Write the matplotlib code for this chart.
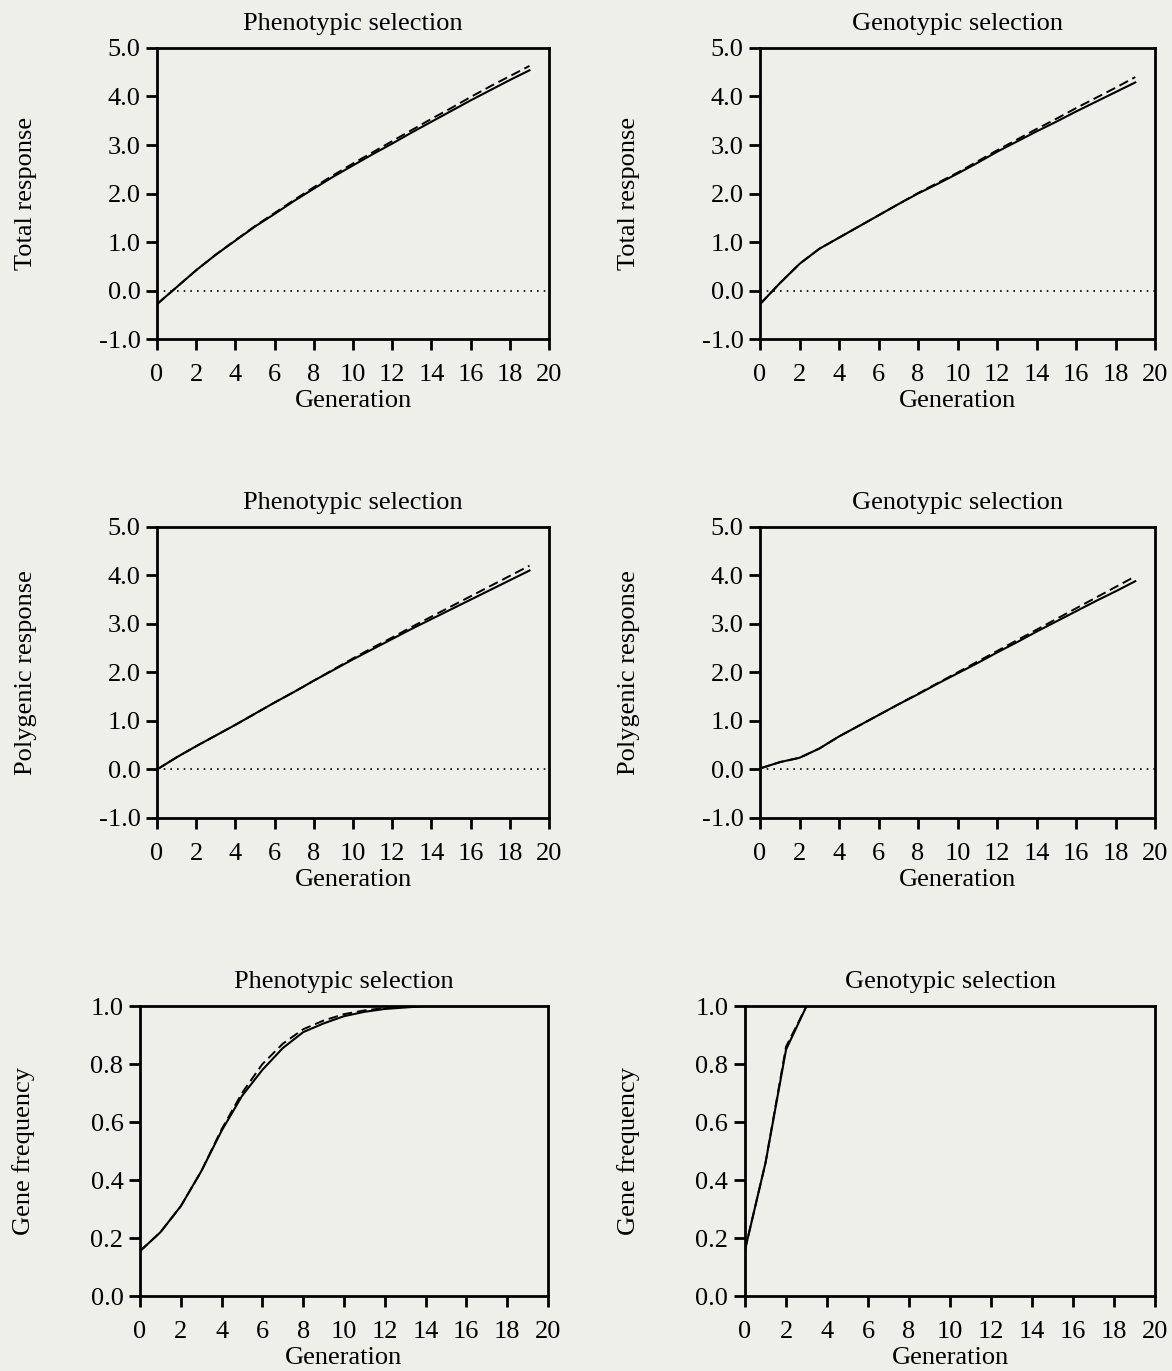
import matplotlib
matplotlib.use('Agg')
import matplotlib.pyplot as plt

plt.rcParams['font.family'] = ['Liberation Serif', 'DejaVu Serif']

gens = list(range(20))

# total response
total_pheno_solid = [-0.28, 0.07, 0.42, 0.74, 1.03, 1.32, 1.58, 1.85, 2.10, 2.35,
                     2.58, 2.81, 3.03, 3.26, 3.48, 3.70, 3.92, 4.13, 4.34, 4.54]
total_pheno_dash = [-0.28, 0.07, 0.42, 0.74, 1.04, 1.33, 1.60, 1.87, 2.13, 2.38,
                    2.62, 2.85, 3.08, 3.31, 3.54, 3.76, 3.99, 4.21, 4.42, 4.63]
total_geno_solid = [-0.28, 0.15, 0.55, 0.86, 1.09, 1.32, 1.55, 1.78, 2.00, 2.20,
                    2.41, 2.63, 2.86, 3.07, 3.28, 3.48, 3.69, 3.89, 4.09, 4.29]
total_geno_dash = [-0.28, 0.15, 0.55, 0.86, 1.09, 1.32, 1.55, 1.78, 2.01, 2.22,
                   2.43, 2.66, 2.89, 3.11, 3.33, 3.54, 3.76, 3.97, 4.18, 4.40]

# polygenic response
poly_pheno_solid = [0.0, 0.25, 0.48, 0.70, 0.92, 1.15, 1.38, 1.60, 1.83, 2.05,
                    2.27, 2.48, 2.69, 2.90, 3.10, 3.30, 3.50, 3.70, 3.90, 4.10]
poly_pheno_dash = [0.0, 0.25, 0.48, 0.70, 0.92, 1.15, 1.38, 1.60, 1.83, 2.06,
                   2.29, 2.51, 2.72, 2.94, 3.15, 3.36, 3.57, 3.78, 3.99, 4.20]
poly_geno_solid = [0.02, 0.15, 0.24, 0.43, 0.68, 0.90, 1.12, 1.34, 1.55, 1.77,
                   1.98, 2.19, 2.41, 2.62, 2.84, 3.05, 3.26, 3.47, 3.67, 3.88]
poly_geno_dash = [0.02, 0.15, 0.24, 0.43, 0.68, 0.90, 1.12, 1.34, 1.56, 1.78,
                  2.00, 2.22, 2.44, 2.66, 2.88, 3.10, 3.32, 3.54, 3.76, 3.98]

# gene frequency
freq_pheno_solid = [0.155, 0.22, 0.31, 0.43, 0.57, 0.69, 0.78, 0.855, 0.91, 0.94,
                    0.965, 0.98, 0.99, 0.995, 1.0, 1.0, 1.0, 1.0, 1.0, 1.0]
freq_pheno_dash = [0.155, 0.22, 0.31, 0.43, 0.575, 0.70, 0.80, 0.87, 0.92, 0.95,
                   0.972, 0.985, 0.993, 0.998, 1.0, 1.0, 1.0, 1.0, 1.0, 1.0]
freq_geno_solid = [0.16, 0.46, 0.85, 1.0, 1.0, 1.0, 1.0, 1.0, 1.0, 1.0,
                   1.0, 1.0, 1.0, 1.0, 1.0, 1.0, 1.0, 1.0, 1.0, 1.0]
freq_geno_dash = [0.16, 0.46, 0.86, 1.0, 1.0, 1.0, 1.0, 1.0, 1.0, 1.0,
                  1.0, 1.0, 1.0, 1.0, 1.0, 1.0, 1.0, 1.0, 1.0, 1.0]

bg = '#efefea'
fs = 19

fig = plt.figure(figsize=(11.72, 13.71), dpi=100)
fig.patch.set_facecolor(bg)

panels = [
    ([0.134, 0.7527, 0.3345, 0.2123], 'Phenotypic selection', 'Total response',
     total_pheno_solid, total_pheno_dash, 'resp'),
    ([0.6485, 0.7527, 0.337, 0.2123], 'Genotypic selection', 'Total response',
     total_geno_solid, total_geno_dash, 'resp'),
    ([0.134, 0.4034, 0.3345, 0.2123], 'Phenotypic selection', 'Polygenic response',
     poly_pheno_solid, poly_pheno_dash, 'resp'),
    ([0.6485, 0.4034, 0.337, 0.2123], 'Genotypic selection', 'Polygenic response',
     poly_geno_solid, poly_geno_dash, 'resp'),
    ([0.1195, 0.0547, 0.348, 0.2115], 'Phenotypic selection', 'Gene frequency',
     freq_pheno_solid, freq_pheno_dash, 'freq'),
    ([0.6357, 0.0547, 0.35, 0.2115], 'Genotypic selection', 'Gene frequency',
     freq_geno_solid, freq_geno_dash, 'freq'),
]

for rect, title, ylab, solid, dash, kind in panels:
    ax = fig.add_axes(rect)
    ax.set_facecolor(bg)
    ax.plot(gens, dash, color='black', lw=1.4, ls=(0, (5, 2.5)))
    ax.plot(gens, solid, color='black', lw=1.5)
    ax.set_xlim(0, 20)
    ax.set_xticks(range(0, 21, 2))
    if kind == 'resp':
        ax.axhline(0, color='black', lw=1.2, ls=(0, (1, 3)))
        ax.set_ylim(-1, 5)
        ax.set_yticks([-1, 0, 1, 2, 3, 4, 5])
        ax.set_yticklabels(['-1.0', '0.0', '1.0', '2.0', '3.0', '4.0', '5.0'])
        lpad = 44
    else:
        ax.set_ylim(0, 1)
        ax.set_yticks([0, 0.2, 0.4, 0.6, 0.8, 1.0])
        ax.set_yticklabels(['0.0', '0.2', '0.4', '0.6', '0.8', '1.0'])
        lpad = 40
    for s in ax.spines.values():
        s.set_linewidth(2)
    ax.tick_params(direction='out', length=8, width=2, labelsize=fs, pad=4)
    ax.tick_params(axis='x', pad=10)
    ax.set_title(title, fontsize=fs, pad=13)
    ax.set_xlabel('Generation', fontsize=fs, labelpad=3)
    ax.set_ylabel(ylab, fontsize=fs, labelpad=lpad)

fig.savefig('out.png', dpi=100, facecolor=bg)
